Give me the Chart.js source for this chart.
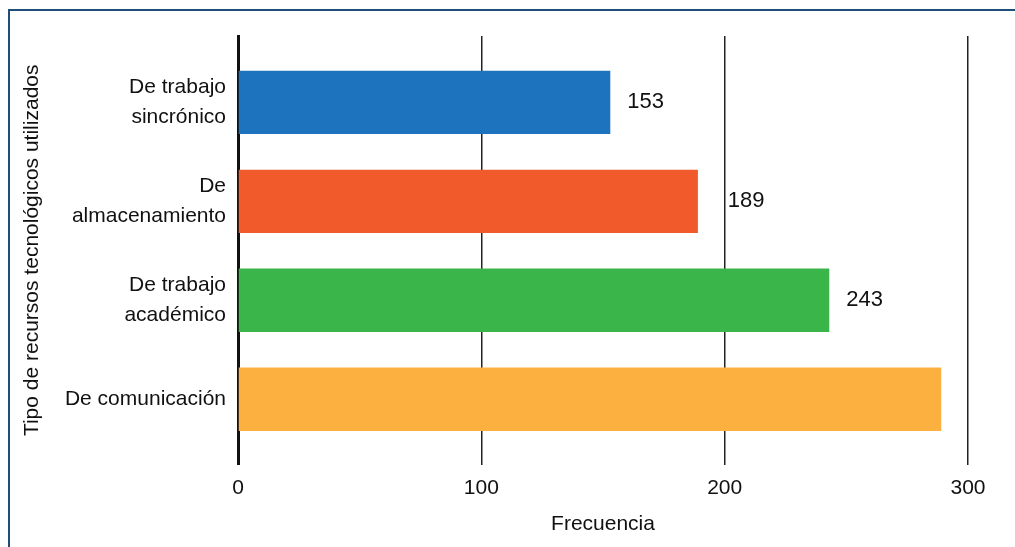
<!DOCTYPE html>
<html>
<head>
<meta charset="utf-8">
<script src="https://cdn.jsdelivr.net/npm/chart.js@4.4.1/dist/chart.umd.min.js"></script>
<style>
    html, body { margin: 0; padding: 0; background: #fff; overflow: hidden; }
    #wrap { position: relative; width: 1015px; height: 547px; }
    #frame { position: absolute; left: 8px; top: 9px; width: 1100px; height: 600px; border-top: 2px solid #1f4e79; border-left: 2px solid #1f4e79; box-sizing: border-box; }
    #chart { position: absolute; left: 0; top: 0; }
</style>
</head>
<body>
<div id="wrap">
    <div id="frame"></div>
    <canvas id="chart" width="1015" height="547"></canvas>
</div>
<script>
const FONT = "'Liberation Sans', Arial, sans-serif";

const categories = [['De trabajo', 'sincrónico'], ['De', 'almacenamiento'], ['De trabajo', 'académico'], 'De comunicación'];
const values = [153, 189, 243, 289];
const valueLabels = ['153', '189', '243', ''];
const barColors = ['#1e73be', '#f15a2b', '#3ab54a', '#fbb040'];
const xTicks = [0, 100, 200, 300];

// value labels beside each bar, nudged past a gridline when they would sit on one
const barLabels = {
    id: 'barLabels',
    afterDatasetsDraw(chart) {
        const ctx = chart.ctx;
        const xs = chart.scales.x;
        const meta = chart.getDatasetMeta(0);
        ctx.save();
        ctx.font = '22px ' + FONT;
        ctx.fillStyle = '#111';
        ctx.textBaseline = 'middle';
        meta.data.forEach((bar, i) => {
            const txt = valueLabels[i];
            if (!txt) return;
            let x = bar.x + 17;
            const w = ctx.measureText(txt).width;
            xTicks.forEach(t => {
                const gx = xs.getPixelForValue(t);
                if (gx > x - 2 && gx < x + w + 2) x = gx + 3;
            });
            ctx.fillText(txt, x, bar.y);
        });
        ctx.restore();
    }
};

new Chart(document.getElementById('chart'), {
    type: 'bar',
    data: {
        datasets: [{
            data: values.map((v, i) => ({ x: v, y: i })),
            backgroundColor: barColors,
            barPercentage: 0.64,
            categoryPercentage: 1
        }]
    },
    options: {
        indexAxis: 'y',
        responsive: false,
        animation: false,
        layout: { padding: { left: 18, top: 36, right: 47, bottom: 10 } },
        plugins: { legend: { display: false }, tooltip: { enabled: false } },
        scales: {
            x: {
                type: 'linear',
                min: 0, max: 300,
                afterBuildTicks: s => { s.ticks = xTicks.map(v => ({ value: v })); },
                grid: { color: '#222', lineWidth: 1.5, drawTicks: false },
                border: { display: false },
                ticks: { color: '#111', font: { family: FONT, size: 21 }, padding: 11 },
                title: { display: true, text: 'Frecuencia', color: '#111', font: { family: FONT, size: 21 }, padding: { top: 0, bottom: 0 } }
            },
            y: {
                type: 'linear',
                reverse: true,
                offset: false,
                min: -0.67, max: 3.66,
                afterBuildTicks: s => { s.ticks = categories.map((c, i) => ({ value: i })); },
                afterFit: s => { s.width = 238 - 18; },
                grid: { display: false, drawTicks: false, offset: false },
                border: { display: true, color: '#111', width: 3 },
                ticks: {
                    color: '#111', font: { family: FONT, size: 21, lineHeight: 1.45 }, padding: 12,
                    callback: v => categories[v]
                },
                title: { display: true, text: 'Tipo de recursos tecnológicos utilizados', color: '#111', font: { family: FONT, size: 21 }, padding: { top: 2, bottom: 0 } }
            }
        }
    },
    plugins: [barLabels]
});
</script>
</body>
</html>
